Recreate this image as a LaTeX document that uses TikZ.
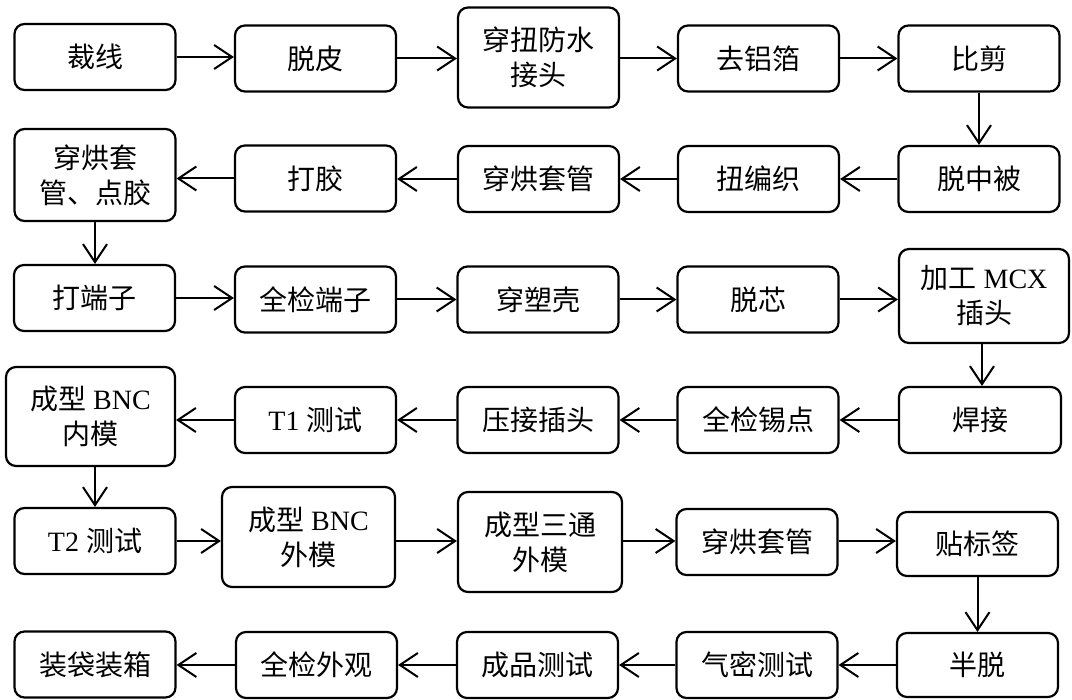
\documentclass[tikz,border=0pt]{standalone}
\usepackage{fontspec}
\setmainfont{Noto Sans CJK SC}
\newfontfamily\lat{Liberation Serif}
\usetikzlibrary{arrows.meta}
\newcommand\myboxfont{\fontsize{28}{35}\selectfont\lineskiplimit=-50pt\relax}
\tikzset{
  box/.style={draw, line width=2.2pt, rounded corners=10pt, align=center, inner sep=0pt,
    minimum width=161pt, minimum height=66pt, font=\myboxfont},
  tallbox/.style={box, minimum height=100pt},
  arr/.style={line width=2pt, -{Straight Barb[length=18pt,width=24pt,line width=2pt]}}
}
\begin{document}
\begin{tikzpicture}[x=1pt,y=-1pt]
\useasboundingbox (0,0) rectangle (1072,700);
% row 1
\node[box] (a1) at (95,57) {裁线};
\node[box] (a2) at (315.5,58.5) {脱皮};
\node[tallbox] (a3) at (538.5,57.5) {穿扭防水\\接头};
\node[box] (a4) at (758.5,58.5) {去铝箔};
\node[box] (a5) at (979,58.5) {比剪};
% row 2
\node[box] (b5) at (979,179) {脱中被};
\node[box] (b4) at (758.5,179) {扭编织};
\node[box] (b3) at (538.5,179) {穿烘套管};
\node[box] (b2) at (315.5,178.5) {打胶};
\node[box, minimum height=92pt] (b1) at (95,175) {穿烘套\\管、点胶};
% row 3
\node[box] (c1) at (94.5,298) {打端子};
\node[box] (c2) at (315.5,299.5) {全检端子};
\node[box] (c3) at (538,299.5) {穿塑壳};
\node[box] (c4) at (758,299.5) {脱芯};
\node[box, minimum width=170pt, minimum height=94pt] (c5) at (984,296) {加工{\lat{} MCX}\\插头};
% row 4
\node[box, minimum width=162pt] (d5) at (980,420) {焊接};
\node[box] (d4) at (758,420) {全检锡点};
\node[box] (d3) at (538,420) {压接插头};
\node[box] (d2) at (315.5,420) {{\lat T1 }测试};
\node[box, minimum width=169pt, minimum height=99pt] (d1) at (90.5,416.5) {成型{\lat{} BNC}\\内模};
% row 5
\node[box] (e1) at (95,541) {{\lat T2 }测试};
\node[tallbox, minimum width=173pt] (e2) at (308.5,537) {成型{\lat{} BNC}\\外模};
\node[tallbox, minimum width=164pt] (e3) at (540,542) {成型三通\\外模};
\node[box] (e4) at (757,542) {穿烘套管};
\node[box, minimum height=64pt] (e5) at (977.5,544) {贴标签};
% row 6
\node[box, minimum height=64pt] (f5) at (977.5,665) {半脱};
\node[box] (f4) at (757,665) {气密测试};
\node[box] (f3) at (537.5,665) {成品测试};
\node[box] (f2) at (316.5,665) {全检外观};
\node[box] (f1) at (95,664.5) {装袋装箱};
% arrows row 1
\draw[arr] (a1.east) -- (a1.east -| a2.west);
\draw[arr] (a2.east) -- (a2.east -| a3.west);
\draw[arr] (a4.west -| a3.east) -- (a4.west);
\draw[arr] (a4.east) -- (a4.east -| a5.west);
\draw[arr] (a5.south) -- (b5.north);
% row 2
\draw[arr] (b5.west) -- (b5.west -| b4.east);
\draw[arr] (b4.west) -- (b4.west -| b3.east);
\draw[arr] (b3.west) -- (b3.west -| b2.east);
\draw[arr] (b2.west) -- (b2.west -| b1.east);
\draw[arr] (b1.south) -- (b1.south |- c1.north);
% row 3
\draw[arr] (c1.east) -- (c1.east -| c2.west);
\draw[arr] (c2.east) -- (c2.east -| c3.west);
\draw[arr] (c3.east) -- (c3.east -| c4.west);
\draw[arr] (c4.east) -- (c4.east -| c5.west);
\draw[arr] ([xshift=-2pt]c5.south) -- ([xshift=-2pt]c5.south |- d5.north);
% row 4
\draw[arr] (d5.west) -- (d5.west -| d4.east);
\draw[arr] (d4.west) -- (d4.west -| d3.east);
\draw[arr] (d3.west) -- (d3.west -| d2.east);
\draw[arr] (d2.west) -- (d2.west -| d1.east);
\draw[arr] (e1.north |- d1.south) -- (e1.north);
% row 5
\draw[arr] (e1.east) -- (e1.east -| e2.west);
\draw[arr] (e2.east |- e1.east) -- (e1.east -| e3.west);
\draw[arr] (e3.east |- e1.east) -- (e1.east -| e4.west);
\draw[arr] (e4.east |- e1.east) -- (e1.east -| e5.west);
\draw[arr] (e5.south) -- (f5.north);
% row 6
\draw[arr] (f5.west) -- (f5.west -| f4.east);
\draw[arr] (f4.west) -- (f4.west -| f3.east);
\draw[arr] (f3.west) -- (f3.west -| f2.east);
\draw[arr] (f2.west) -- (f2.west -| f1.east);
\end{tikzpicture}
\end{document}
